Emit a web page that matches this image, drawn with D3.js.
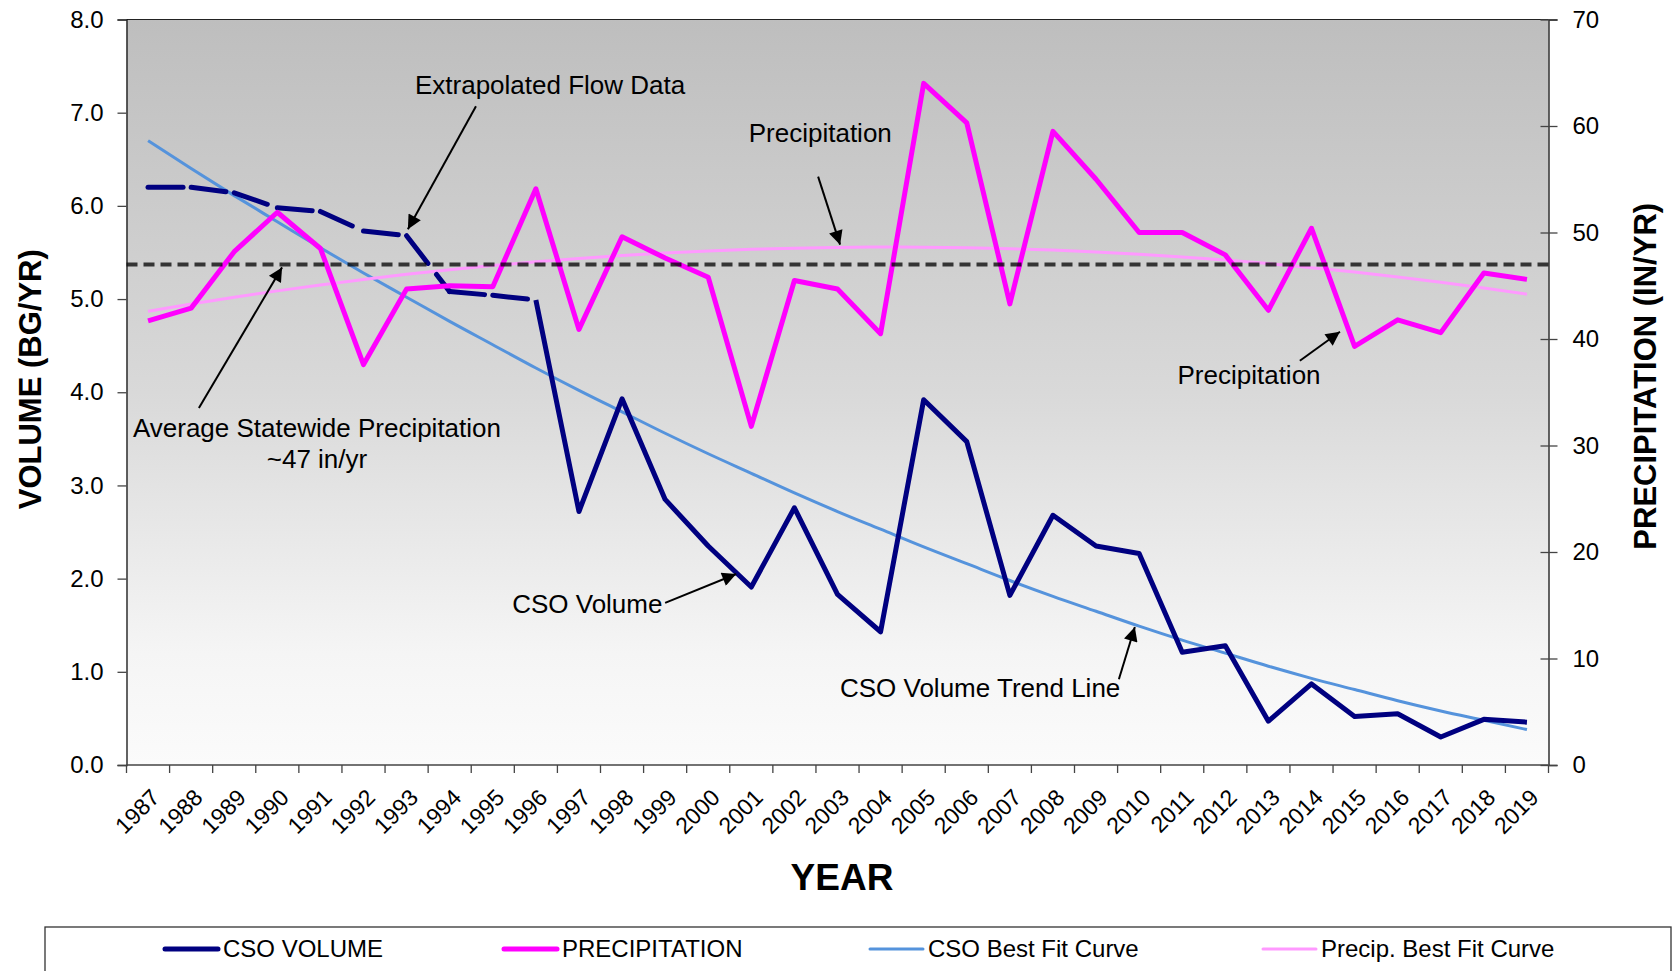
<!DOCTYPE html>
<html>
<head>
<meta charset="utf-8">
<script src="https://cdn.jsdelivr.net/npm/d3@7"></script>
<style>
    body { margin: 0; background: white; }
    svg { display: block; }
</style>
</head>
<body>
<div class="svg-container"></div>
<script>

/*** Data ***/

const years = [1987, 1988, 1989, 1990, 1991, 1992, 1993, 1994, 1995, 1996,
    1997, 1998, 1999, 2000, 2001, 2002, 2003, 2004, 2005, 2006,
    2007, 2008, 2009, 2010, 2011, 2012, 2013, 2014, 2015, 2016,
    2017, 2018, 2019]

// CSO volume, BG/yr (left axis). 1987-1996 is extrapolated flow data
const csoVolume = [6.20, 6.20, 6.14, 5.98, 5.94, 5.73, 5.68, 5.08, 5.04, 4.99,
    2.72, 3.93, 2.85, 2.35, 1.91, 2.76, 1.83, 1.43, 3.92, 3.47,
    1.82, 2.68, 2.35, 2.27, 1.21, 1.28, 0.47, 0.87, 0.52, 0.55,
    0.30, 0.49, 0.46]
const lastExtrapolatedYear = 1996

// precipitation, in/yr (right axis)
const precipitation = [41.7, 42.9, 48.2, 51.9, 48.5, 37.6, 44.7, 45.0, 44.9, 54.1,
    40.9, 49.6, 47.6, 45.8, 31.8, 45.5, 44.7, 40.5, 64.0, 60.3,
    43.3, 59.5, 55.0, 50.0, 50.0, 47.9, 42.7, 50.4, 39.3, 41.8,
    40.6, 46.2, 45.6]

// best fit curves as drawn
const csoBestFit = [6.70, 6.40, 6.11, 5.83, 5.55, 5.28, 5.02, 4.76, 4.51, 4.26,
    4.02, 3.79, 3.56, 3.34, 3.13, 2.92, 2.72, 2.53, 2.34, 2.16,
    1.98, 1.81, 1.65, 1.49, 1.34, 1.20, 1.06, 0.93, 0.81, 0.69,
    0.58, 0.48, 0.38]
const precipBestFit = [42.60, 43.28, 43.92, 44.52, 45.08, 45.59, 46.07, 46.51, 46.90, 47.26,
    47.57, 47.84, 48.08, 48.27, 48.42, 48.53, 48.60, 48.63, 48.62, 48.57,
    48.48, 48.35, 48.17, 47.96, 47.71, 47.41, 47.08, 46.70, 46.29, 45.83,
    45.33, 44.79, 44.21]

const avgPrecipitation = 47

const volumeTicks = [0, 1, 2, 3, 4, 5, 6, 7, 8]
const precipTicks = [0, 10, 20, 30, 40, 50, 60, 70]

const legendLabels = ["CSO VOLUME", "PRECIPITATION", "CSO Best Fit Curve", "Precip. Best Fit Curve"]

/*** Layout ***/

const svgWidth = 1674
const svgHeight = 971

const plotLeft = 126.5
const plotRight = 1548.5
const plotTop = 19.5
const plotBottom = 765

const font = "'Liberation Sans', Arial, sans-serif"

const navy = "#000080"
const magenta = "#ff00ff"
const fitBlue = "#5593dc"
const fitPink = "#ff99ff"

let svg = d3.select(".svg-container")
    .append("svg")
    .attr("width", svgWidth)
    .attr("height", svgHeight)
    .style("background-color", "white")
    .style("font-family", font)

let defs = svg.append("defs")

let grad = defs.append("linearGradient")
    .attr("id", "plotBg")
    .attr("x1", 0).attr("y1", 0).attr("x2", 0).attr("y2", 1)
grad.append("stop").attr("offset", "0%").attr("stop-color", "#bebebe")
grad.append("stop").attr("offset", "50%").attr("stop-color", "#d9d9d9")
grad.append("stop").attr("offset", "85%").attr("stop-color", "#f5f5f5")
grad.append("stop").attr("offset", "100%").attr("stop-color", "#fbfbfb")

defs.append("marker")
    .attr("id", "arrow")
    .attr("viewBox", "0 0 10 10")
    .attr("refX", 10)
    .attr("refY", 5)
    .attr("markerUnits", "userSpaceOnUse")
    .attr("markerWidth", 18)
    .attr("markerHeight", 14)
    .attr("orient", "auto")
    .append("path")
    .attr("d", "M0,0 L10,5 L0,10 z")
    .attr("fill", "black")

/* Scales */

let xScale = d3.scaleBand()
    .domain(years)
    .range([plotLeft, plotRight])
    .padding(0)

let xCenter = (d) => xScale(d) + xScale.bandwidth() / 2

// fractional category position, used for the annotations
let xIndex = d3.scaleLinear()
    .domain([0, years.length])
    .range([plotLeft, plotRight])

let yLeft = d3.scaleLinear()
    .domain([0, 8])
    .range([plotBottom, plotTop])

let yRight = d3.scaleLinear()
    .domain([0, 70])
    .range([plotBottom, plotTop])

/* Plot background */

svg.append("rect")
    .attr("x", plotLeft)
    .attr("y", plotTop)
    .attr("width", plotRight - plotLeft)
    .attr("height", plotBottom - plotTop)
    .attr("fill", "url(#plotBg)")

svg.append("line")
    .attr("x1", plotLeft).attr("x2", plotRight)
    .attr("y1", plotTop).attr("y2", plotTop)
    .attr("stroke", "#222")
    .attr("stroke-width", 1.2)

/* Lines */

let graph = svg.append("g")

let volLine = d3.line()
    .x((d) => xCenter(d.year))
    .y((d) => yLeft(d.value))

let precipLine = d3.line()
    .x((d) => xCenter(d.year))
    .y((d) => yRight(d.value))

let csoRows = years.map((y, i) => ({year: y, value: csoVolume[i]}))
let precipRows = years.map((y, i) => ({year: y, value: precipitation[i]}))
let csoFitRows = years.map((y, i) => ({year: y, value: csoBestFit[i]}))
let precipFitRows = years.map((y, i) => ({year: y, value: precipBestFit[i]}))

graph.append("path")
    .datum(csoFitRows)
    .attr("d", volLine.curve(d3.curveMonotoneX))
    .attr("fill", "none")
    .attr("stroke", fitBlue)
    .attr("stroke-width", 3)

graph.append("path")
    .datum(precipFitRows)
    .attr("d", precipLine.curve(d3.curveMonotoneX))
    .attr("fill", "none")
    .attr("stroke", fitPink)
    .attr("stroke-width", 3)

volLine.curve(d3.curveLinear)
precipLine.curve(d3.curveLinear)

// extrapolated part: every segment dashed on its own, like the original
let extrapolated = csoRows.filter((d) => d.year <= lastExtrapolatedYear)
let segments = d3.pairs(extrapolated)

graph.selectAll(".extrap")
    .data(segments)
    .enter()
    .append("path")
    .attr("class", "extrap")
    .attr("d", (d) => volLine(d))
    .attr("fill", "none")
    .attr("stroke", navy)
    .attr("stroke-width", 5)
    .attr("stroke-linecap", "round")
    .attr("stroke-dasharray", "35,14")

graph.append("path")
    .datum(csoRows.filter((d) => d.year >= lastExtrapolatedYear))
    .attr("d", volLine)
    .attr("fill", "none")
    .attr("stroke", navy)
    .attr("stroke-width", 5)
    .attr("stroke-linejoin", "round")

graph.append("path")
    .datum(precipRows)
    .attr("d", precipLine)
    .attr("fill", "none")
    .attr("stroke", magenta)
    .attr("stroke-width", 5)
    .attr("stroke-linejoin", "round")

// average statewide precipitation
graph.append("line")
    .attr("x1", plotLeft)
    .attr("x2", plotRight)
    .attr("y1", yRight(avgPrecipitation))
    .attr("y2", yRight(avgPrecipitation))
    .attr("stroke", "black")
    .attr("stroke-opacity", 0.75)
    .attr("stroke-width", 4)
    .attr("stroke-dasharray", "11,6")

/* Axes */

let leftAxis = d3.axisLeft(yLeft)
    .tickValues(volumeTicks)
    .tickFormat(d3.format(".1f"))
    .tickSize(9)
    .tickPadding(14)

let yAxisL = svg.append("g")
    .attr("transform", `translate(${plotLeft}, 0)`)
    .call(leftAxis)
yAxisL.attr("font-size", 24).attr("font-family", font)
yAxisL.select("path").attr("stroke", "#111").attr("stroke-width", 1.3)
yAxisL.selectAll("line").attr("stroke", "#444").attr("stroke-width", 1.3)
yAxisL.selectAll("text").attr("fill", "black")

let rightAxis = d3.axisRight(yRight)
    .tickValues(precipTicks)
    .tickSize(9)
    .tickPadding(15)

let yAxisR = svg.append("g")
    .attr("transform", `translate(${plotRight}, 0)`)
    .call(rightAxis)
yAxisR.attr("font-size", 24).attr("font-family", font)
yAxisR.select("path").attr("stroke", "#111").attr("stroke-width", 1.3)
yAxisR.selectAll(".tick line").attr("x1", -8).attr("stroke", "#444").attr("stroke-width", 1.3)
yAxisR.selectAll("text").attr("fill", "black")

// category axis: ticks between the years, labels at the centres
let xAxisG = svg.append("g")

xAxisG.append("line")
    .attr("x1", plotLeft).attr("x2", plotRight)
    .attr("y1", plotBottom).attr("y2", plotBottom)
    .attr("stroke", "#444")
    .attr("stroke-width", 1.5)

xAxisG.selectAll(".xtick")
    .data(years.map((d) => xScale(d)).concat([plotRight]))
    .enter()
    .append("line")
    .attr("class", "xtick")
    .attr("x1", (d) => d).attr("x2", (d) => d)
    .attr("y1", plotBottom).attr("y2", plotBottom + 8)
    .attr("stroke", "#444")
    .attr("stroke-width", 1.3)

xAxisG.selectAll(".xlabel")
    .data(years)
    .enter()
    .append("text")
    .attr("class", "xlabel")
    .attr("transform", (d) => `translate(${xCenter(d) + 13}, ${plotBottom + 34}) rotate(-45)`)
    .attr("text-anchor", "end")
    .attr("font-size", 23)
    .text((d) => d)

/* Axis titles */

svg.append("text")
    .attr("transform", "translate(842, 890)")
    .attr("text-anchor", "middle")
    .attr("font-size", 37)
    .attr("font-weight", "bold")
    .text("YEAR")

svg.append("text")
    .attr("transform", `translate(41, ${(plotTop + plotBottom) / 2 - 13}) rotate(-90)`)
    .attr("text-anchor", "middle")
    .attr("font-size", 31)
    .attr("font-weight", "bold")
    .text("VOLUME (BG/YR)")

svg.append("text")
    .attr("transform", `translate(1656, ${(plotTop + plotBottom) / 2 - 16}) rotate(-90)`)
    .attr("text-anchor", "middle")
    .attr("font-size", 31)
    .attr("font-weight", "bold")
    .text("PRECIPITATION (IN/YR)")

/* Annotations: positions in category index / axis value */

let notes = [
    {lines: ["Extrapolated Flow Data"], axis: "L", tx: 9.83, ty: 7.20, anchor: "middle",
        from: [8.11, 7.07], to: [6.53, 5.75]},
    {lines: ["Precipitation"], axis: "R", tx: 16.1, ty: 58.5, anchor: "middle",
        from: [16.05, 55.25], to: [16.56, 48.86]},
    {lines: ["Average Statewide Precipitation", "~47 in/yr"], axis: "L", tx: 4.42, ty: 3.52, anchor: "middle",
        from: [1.68, 3.83], to: [3.61, 5.34]},
    {lines: ["CSO Volume"], axis: "L", tx: 8.95, ty: 1.63, anchor: "start",
        from: [12.5, 1.74], to: [14.15, 2.05]},
    {lines: ["CSO Volume Trend Line"], axis: "L", tx: 19.81, ty: 0.73, anchor: "middle",
        from: [23.03, 0.92], to: [23.4, 1.48]},
    {lines: ["Precipitation"], axis: "R", tx: 26.05, ty: 35.8, anchor: "middle",
        from: [27.23, 37.96], to: [28.16, 40.68]}
]

let noteG = svg.append("g")

notes.forEach((n) => {
    let yS = n.axis === "L" ? yLeft : yRight
    let t = noteG.append("text")
        .attr("x", xIndex(n.tx))
        .attr("y", yS(n.ty))
        .attr("text-anchor", n.anchor)
        .attr("font-size", 26)
    n.lines.forEach((l, i) => {
        t.append("tspan")
            .attr("x", xIndex(n.tx))
            .attr("dy", i === 0 ? 0 : 31)
            .text(l)
    })
    noteG.append("line")
        .attr("x1", xIndex(n.from[0]))
        .attr("y1", yS(n.from[1]))
        .attr("x2", xIndex(n.to[0]))
        .attr("y2", yS(n.to[1]))
        .attr("stroke", "black")
        .attr("stroke-width", 2)
        .attr("marker-end", "url(#arrow)")
})

/* Legend */

let legend = svg.append("g")

legend.append("rect")
    .attr("x", 45)
    .attr("y", 927)
    .attr("width", 1626)
    .attr("height", 80)
    .attr("fill", "white")
    .attr("stroke", "#333")
    .attr("stroke-width", 1.3)

let legendX = [165, 504, 870, 1263]
let legendColor = [navy, magenta, fitBlue, fitPink]
let legendWidth = [5, 5, 3, 3]

let item = legend.selectAll(".item")
    .data(legendLabels)
    .enter()
    .append("g")
    .attr("class", "item")
    .attr("transform", (d, i) => `translate(${legendX[i]}, 949)`)

item.append("line")
    .attr("x1", 0).attr("x2", 53)
    .attr("y1", 0).attr("y2", 0)
    .attr("stroke", (d, i) => legendColor[i])
    .attr("stroke-width", (d, i) => legendWidth[i])
    .attr("stroke-linecap", "round")

item.append("text")
    .attr("x", 58)
    .attr("y", 8)
    .attr("font-size", 24)
    .text((d) => d)

</script>
</body>
</html>
